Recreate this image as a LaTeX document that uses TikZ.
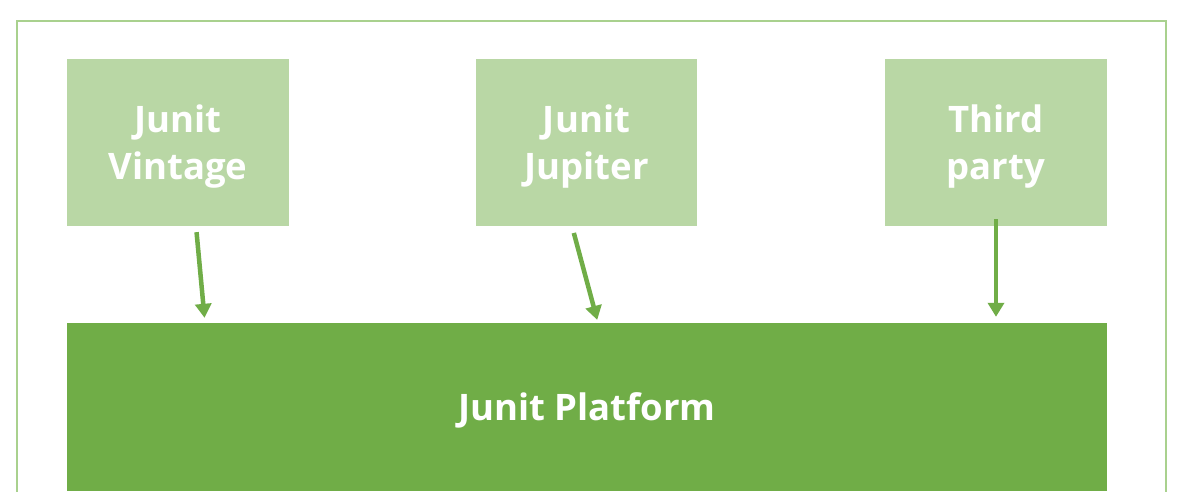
\documentclass[tikz,border=0pt]{standalone}
\usepackage{fontspec}
\setmainfont{Open Sans}
\usetikzlibrary{arrows.meta}
\definecolor{framegreen}{HTML}{A9D18E}
\definecolor{lightbox}{HTML}{B9D7A5}
\definecolor{darkgreen}{HTML}{70AD47}
\tikzset{
  upbox/.style={fill=lightbox, draw=none, minimum width=222pt, minimum height=167pt,
    inner sep=0pt, text=white, align=center, font=\fontsize{36.5}{47}\selectfont\bfseries,
    text height=73pt, text depth=0pt},
  platbox/.style={fill=darkgreen, draw=none, minimum width=1040pt, minimum height=168pt,
    inner sep=0pt, text=white, font=\fontsize{36.5}{47}\selectfont\bfseries,
    text height=26pt, text depth=0pt},
  arr/.style={draw=darkgreen, line width=4.5pt, -{Triangle[width=16pt,length=14pt]}},
  frame/.style={draw=framegreen, line width=1.5pt}
}
\begin{document}
\begin{tikzpicture}[x=1pt,y=1pt]
\useasboundingbox (0,0) rectangle (1179,-492);
\fill[white] (0,0) rectangle (1179,-492);
\draw[frame] (17,-500) -- (17,-21) -- (1166,-21) -- (1166,-500);
\node[upbox] (v) at (178,-142.5) {Junit\\Vintage};
\node[upbox, minimum width=221pt] (j) at (586.5,-142.5) {Junit\\Jupiter};
\node[upbox] (t) at (996,-142.5) {Third\\party};
\node[platbox] (p) at (587,-407) {Junit Platform};
\draw[arr, shorten <=6pt, shorten >=5pt] ([xshift=18pt]v.south) -- ([xshift=-382pt]p.north);
\draw[arr, shorten <=7pt, shorten >=3pt] ([xshift=-14.5pt]j.south) -- ([xshift=11pt]p.north);
\draw[arr, shorten <=-7pt, shorten >=6pt] (t.south) -- ([xshift=409pt]p.north);
\end{tikzpicture}
\end{document}
